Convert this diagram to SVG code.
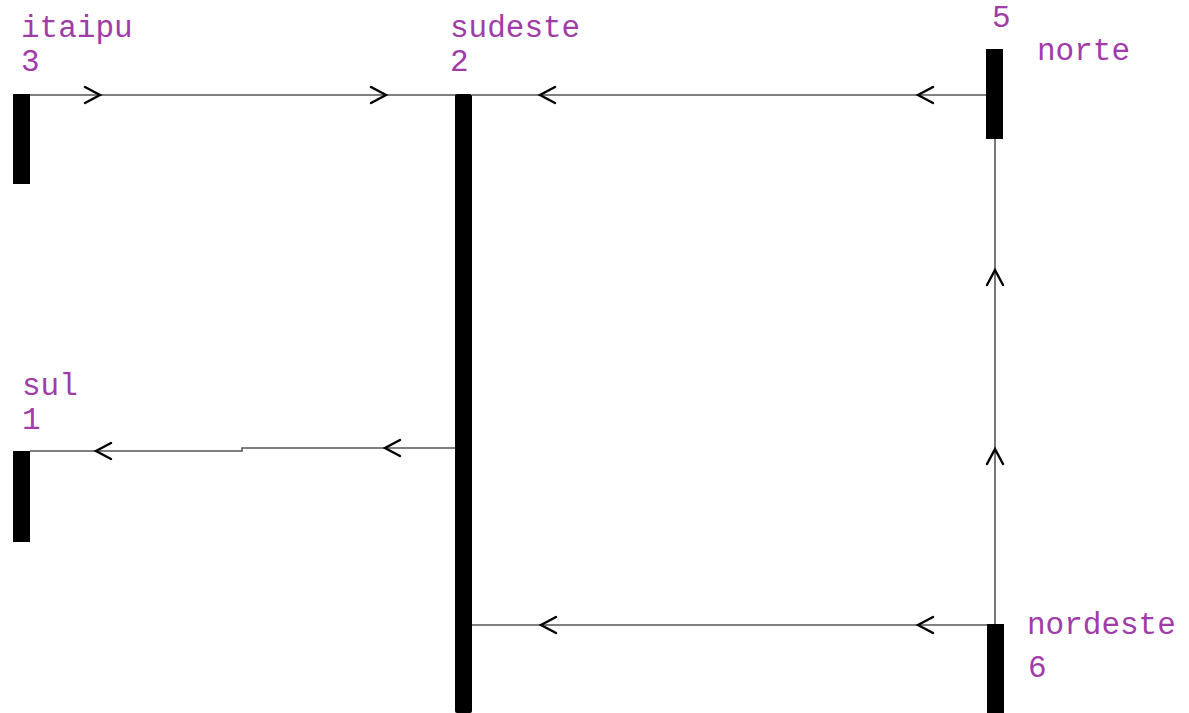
<svg xmlns="http://www.w3.org/2000/svg" width="1189" height="713" viewBox="0 0 1189 713">
  <style>
    .bar { fill: #000; }
    .wire { stroke: #555; stroke-width: 1.6; fill: none; }
    .chev { stroke: #000; stroke-width: 2.4; fill: none; stroke-linecap: round; stroke-linejoin: miter; }
    .lbl { font-family: "Liberation Mono", "Courier New", monospace; font-size: 31px; fill: #a03ca8; }
  </style>
  <defs>
    <path id="chevL" class="chev" d="M 15 -8 L 0 0 L 15 8"/>
    <path id="chevR" class="chev" d="M -15 -8 L 0 0 L -15 8"/>
    <path id="chevU" class="chev" d="M -8 15 L 0 0 L 8 15"/>
  </defs>

  <!-- connectors -->
  <g id="connectors">
    <!-- itaipu -> sudeste -->
    <line class="wire" x1="30" y1="95" x2="456" y2="95"/>
    <use href="#chevR" x="100" y="95"/>
    <use href="#chevR" x="386" y="95"/>
    <!-- norte -> sudeste -->
    <line class="wire" x1="472" y1="95" x2="987" y2="95"/>
    <use href="#chevL" x="540" y="95"/>
    <use href="#chevL" x="918" y="95"/>
    <!-- sudeste -> sul -->
    <polyline class="wire" points="456,448 242,448 242,451 30,451"/>
    <use href="#chevL" x="385" y="448"/>
    <use href="#chevL" x="96" y="451"/>
    <!-- nordeste -> norte -->
    <line class="wire" x1="995" y1="139" x2="995" y2="625"/>
    <use href="#chevU" x="995" y="270"/>
    <use href="#chevU" x="995" y="449"/>
    <!-- nordeste -> sudeste -->
    <line class="wire" x1="472" y1="625" x2="995" y2="625"/>
    <use href="#chevL" x="541" y="625"/>
    <use href="#chevL" x="918" y="625"/>
  </g>

  <g id="itaipu">
    <rect class="bar" x="13" y="94" width="17" height="90"/>
    <text class="lbl" x="21" y="37">itaipu</text>
    <text class="lbl" x="21" y="71">3</text>
  </g>

  <g id="sudeste">
    <rect class="bar" x="455" y="94" width="17" height="619" rx="2"/>
    <text class="lbl" x="450" y="37">sudeste</text>
    <text class="lbl" x="450" y="71">2</text>
  </g>

  <g id="norte">
    <rect class="bar" x="986" y="49" width="17" height="90"/>
    <text class="lbl" x="992" y="27">5</text>
    <text class="lbl" x="1037" y="60">norte</text>
  </g>

  <g id="sul">
    <rect class="bar" x="13" y="451" width="17" height="91"/>
    <text class="lbl" x="22" y="395">sul</text>
    <text class="lbl" x="22" y="429">1</text>
  </g>

  <g id="nordeste">
    <rect class="bar" x="987" y="624" width="17" height="89"/>
    <text class="lbl" x="1027" y="634">nordeste</text>
    <text class="lbl" x="1028" y="677">6</text>
  </g>
</svg>
